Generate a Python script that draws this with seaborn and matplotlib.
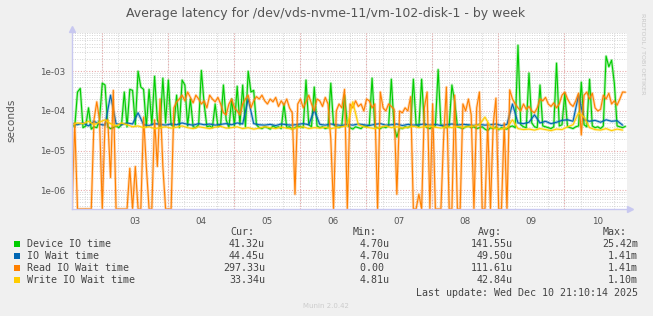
import numpy as np
import pandas as pd
import matplotlib
matplotlib.use("Agg")
import matplotlib.pyplot as plt
import seaborn as sns
from matplotlib.patches import Rectangle
from matplotlib.ticker import FixedLocator, NullFormatter

# ---------------- data (values in microseconds) ----------------
start_day = 2.05          # first sample (day of month)
step_fast_h = 1.0         # device / read series sampling (hours)
step_slow_h = 2.0         # io-wait / write series sampling (hours)

device_io = [45, 40, 300, 370, 38, 42, 120, 35, 40, 38, 60, 500, 450, 40, 36, 38, 42, 38, 45, 300,
             40, 350, 330, 45, 1000, 400, 350, 40, 350, 45, 750, 60, 38, 670, 50, 600, 45, 40, 250, 38,
             600, 450, 42, 200, 40, 38, 45, 1050, 150, 40, 42, 38, 150, 40, 45, 450, 60, 38, 200, 42,
             420, 45, 450, 40, 1000, 300, 330, 45, 38, 36, 40, 38, 35, 42, 38, 40, 36, 150, 38, 40,
             35, 38, 42, 40, 38, 600, 45, 40, 400, 42, 38, 40, 36, 38, 500, 45, 40, 38, 42, 250,
             45, 38, 35, 40, 38, 36, 42, 40, 45, 670, 40, 38, 36, 40, 38, 42, 630, 40, 22, 38,
             36, 40, 38, 42, 630, 45, 40, 630, 45, 38, 36, 40, 42, 1100, 45, 40, 38, 42, 450, 170,
             40, 38, 36, 40, 42, 38, 40, 36, 38, 40, 35, 32, 38, 36, 40, 34, 38, 36, 35, 40,
             42, 38, 4500, 45, 40, 38, 900, 50, 40, 38, 450, 42, 40, 38, 36, 40, 1600, 42, 45, 280,
             40, 38, 36, 40, 42, 530, 45, 40, 630, 42, 38, 40, 36, 42, 2400, 1300, 1900, 500, 42, 40,
             38, 41]

read_io_wait = [0, 50, 0, 0, 0, 0, 0, 0, 60, 170, 60, 0, 50, 60, 2.1, 330, 0, 0, 0, 0,
                0, 3.6, 0, 4, 0, 0, 70, 4, 0, 0, 60, 4, 200, 4, 0, 0, 0, 120, 170, 200,
                250, 180, 300, 220, 160, 250, 200, 150, 180, 120, 250, 200, 170, 220, 150, 90, 80, 150, 200, 120,
                100, 80, 150, 200, 250, 120, 180, 230, 200, 250, 180, 150, 200, 170, 220, 130, 180, 140, 200, 120,
                90, 0.8, 150, 200, 120, 170, 250, 150, 100, 200, 180, 130, 220, 150, 20, 0, 100, 150, 120, 350,
                0, 150, 120, 180, 130, 150, 100, 200, 180, 120, 150, 0, 300, 120, 100, 150, 130, 110, 0.8, 100,
                90, 120, 100, 230, 0, 0, 0.8, 0, 120, 300, 0, 150, 0, 0, 0, 22, 400, 0, 0, 250,
                0, 0, 150, 100, 200, 80, 0, 120, 300, 0, 0, 50, 0, 45, 210, 0, 0, 50, 0, 340,
                200, 150, 120, 100, 150, 110, 130, 100, 90, 120, 200, 180, 220, 150, 130, 160, 120, 150, 250, 300,
                200, 150, 130, 180, 280, 25, 250, 300, 200, 280, 120, 100, 110, 250, 200, 280, 150, 180, 140, 200,
                300, 297]

io_wait = [48, 45, 50, 42, 55, 46, 44, 250, 48, 45, 50, 47, 90, 45, 43, 48, 46, 44, 47, 45,
           50, 46, 44, 48, 45, 47, 44, 46, 48, 45, 50, 47, 200, 48, 45, 44, 46, 43, 47, 45,
           44, 46, 48, 45, 105, 46, 44, 47, 45, 43, 46, 44, 47, 45, 43, 46, 48, 44, 45, 47,
           43, 46, 44, 45, 47, 44, 46, 43, 45, 47, 44, 46, 45, 43, 46, 44, 45, 47, 43, 46,
           150, 50, 48, 52, 80, 50, 55, 48, 52, 58, 60, 55, 250, 60, 55, 58, 52, 60, 55, 57,
           44]

write_io_wait = [45, 50, 48, 55, 45, 52, 60, 48, 42, 50, 45, 40, 42, 38, 40, 36, 38, 40, 37, 39,
                 42, 38, 36, 40, 38, 36, 39, 41, 37, 38, 40, 36, 38, 35, 37, 40, 38, 36, 39, 37,
                 35, 38, 40, 36, 38, 37, 39, 36, 38, 40, 42, 170, 45, 40, 38, 36, 39, 42, 38, 40,
                 37, 39, 41, 38, 40, 42, 39, 37, 40, 38, 41, 39, 40, 42, 45, 70, 40, 36, 35, 38,
                 60, 36, 34, 35, 33, 36, 34, 32, 35, 34, 40, 45, 90, 70, 38, 34, 33, 36, 32, 35,
                 33]

series_names = ["Device IO time", "IO Wait time", "Read IO Wait time", "Write IO Wait time"]
series_colors = ["#00CC00", "#0066B3", "#FF8000", "#FFCC00"]
cur_vals = ["41.32u", "44.45u", "297.33u", "33.34u"]
min_vals = ["4.70u", "4.70u", "0.00 ", "4.81u"]
avg_vals = ["141.55u", "49.50u", "111.61u", "42.84u"]
max_vals = ["25.42m", "1.41m", "1.41m", "1.10m"]
day_labels = ["03", "04", "05", "06", "07", "08", "09", "10"]
day_ticks = [3, 4, 5, 6, 7, 8, 9, 10]
ytick_vals = [1e-6, 1e-5, 1e-4, 1e-3]
ytick_labels = ["1e-06", "1e-05", "1e-04", "1e-03"]

title = "Average latency for /dev/vds-nvme-11/vm-102-disk-1 - by week"

# ---------------- figure ----------------
W, H = 653, 316
sns.set_style("white")
plt.rcParams["font.family"] = ["DejaVu Sans"]

fig = plt.figure(figsize=(W / 100, H / 100), dpi=100, facecolor="#F0F0F0")
x0, x1, y_top, y_bot = 72, 627, 33, 209
ax = fig.add_axes([x0 / W, (H - y_bot) / H, (x1 - x0) / W, (y_bot - y_top) / H])
ax.set_facecolor("white")

ymin, ymax = 3.4e-7, 9.2e-3
xmin, xmax = 2.05, 10.45

def frame(vals, step_h):
    t = start_day + np.arange(len(vals)) * step_h / 24.0
    v = np.clip(np.asarray(vals, dtype=float) * 1e-6, ymin, None)
    return pd.DataFrame({"t": t, "v": v})

data = [frame(device_io, step_fast_h), frame(io_wait, step_slow_h),
        frame(read_io_wait, step_fast_h), frame(write_io_wait, step_slow_h)]

ax.set_yscale("log")
ax.set_xlim(xmin, xmax)
ax.set_ylim(ymin, ymax)

# grid
minor_c = "#D4D4D4"
major_c = "#E8AAAA"
ls = (0, (1, 1.5))
ax.xaxis.set_minor_locator(FixedLocator(np.arange(2.25, 10.5, 0.25)))
ax.yaxis.set_minor_locator(FixedLocator([m * d for d in [1e-7, 1e-6, 1e-5, 1e-4, 1e-3] for m in range(2, 10)]))
ax.yaxis.set_minor_formatter(NullFormatter())
ax.grid(which="minor", axis="both", color=minor_c, linestyle=ls, linewidth=0.7)
ax.grid(which="major", axis="y", color=major_c, linestyle=ls, linewidth=0.8)
ax.grid(which="major", axis="x", visible=False)
for d in np.arange(2.5, 10.5, 1.0):
    ax.axvline(d, color=major_c, linestyle=ls, linewidth=0.8, zorder=0.6)
ax.set_axisbelow(True)

# series
for df, c in zip(data, series_colors):
    sns.lineplot(data=df, x="t", y="v", ax=ax, color=c, linewidth=2.0, alpha=0.3,
                 estimator=None, sort=False, legend=False)
    sns.lineplot(data=df, x="t", y="v", ax=ax, color=c, linewidth=0.8,
                 estimator=None, sort=False, legend=False)

ax.set_xlabel("")
ax.set_ylabel("")
ax.set_xticks(day_ticks)
ax.set_xticklabels(day_labels)
ax.set_yticks(ytick_vals)
ax.set_yticklabels(ytick_labels)
ax.tick_params(axis="both", which="major", labelsize=6.3, colors="#C8C8E8", labelcolor="#555555",
               length=2, width=0.8, pad=3)
ax.tick_params(axis="both", which="minor", length=0)
ax.tick_params(axis="x", which="major", pad=4)

for s in ["top", "right"]:
    ax.spines[s].set_visible(False)
for s in ["left", "bottom"]:
    ax.spines[s].set_color("#C8C8F0")
    ax.spines[s].set_linewidth(1.0)
ax.plot([0], [1.025], marker="^", color="#C8C8F0", markersize=4, transform=ax.transAxes, clip_on=False)
ax.plot([1.005], [0], marker=">", color="#C8C8F0", markersize=4, transform=ax.transAxes, clip_on=False)

# texts
def fx(px):
    return px / W

def fy(py):
    return 1 - py / H

fig.text(fx(326), fy(13), title, ha="center", va="center", fontsize=9.0, color="#555555")
fig.text(fx(11), fy(120), "seconds", rotation=90, ha="center", va="center", fontsize=7.6, color="#555555")
fig.text(fx(643), fy(54), "RRDTOOL / TOBI OETIKER", rotation=270, ha="center", va="center",
         fontsize=4.6, color="#C8C8C8")
fig.text(fx(326), fy(306), "Munin 2.0.42", ha="center", va="center", fontsize=5.0, color="#CCCCCC")

mono = "DejaVu Sans Mono"
fs = 7.2
tc = "#444444"
for hdr, xp in zip(["Cur:", "Min:", "Avg:", "Max:"], [230, 353, 478, 603]):
    fig.text(fx(xp), fy(232), hdr, ha="left", va="center", fontsize=fs, family=mono, color=tc)

row_y = [244, 256, 268, 280]
for i, name in enumerate(series_names):
    yy = row_y[i]
    fig.patches.append(Rectangle((fx(14), fy(yy + 3)), 6 / W, 6 / H, transform=fig.transFigure,
                                 facecolor=series_colors[i], edgecolor="none"))
    fig.text(fx(27), fy(yy), name, ha="left", va="center", fontsize=fs, family=mono, color=tc)
    fig.text(fx(265), fy(yy), cur_vals[i], ha="right", va="center", fontsize=fs, family=mono, color=tc)
    fig.text(fx(360), fy(yy), min_vals[i], ha="left", va="center", fontsize=fs, family=mono, color=tc)
    fig.text(fx(513), fy(yy), avg_vals[i], ha="right", va="center", fontsize=fs, family=mono, color=tc)
    fig.text(fx(638), fy(yy), max_vals[i], ha="right", va="center", fontsize=fs, family=mono, color=tc)

fig.text(fx(638), fy(293), "Last update: Wed Dec 10 21:10:14 2025", ha="right", va="center",
         fontsize=fs, family=mono, color=tc)

fig.savefig("out.png", dpi=100, facecolor=fig.get_facecolor())
